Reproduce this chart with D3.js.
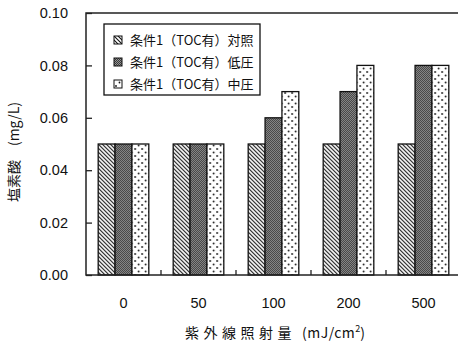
<!DOCTYPE html>
<html>
<head>
<meta charset="utf-8">
<script src="https://cdn.jsdelivr.net/npm/d3@7/dist/d3.min.js"></script>
<style>
  html, body { margin: 0; padding: 0; background: #fff; }
  svg { display: block; }
</style>
</head>
<body>
<svg id="chart" width="458" height="345"></svg>
<script>
// Chlorate concentration by UV dose, three treatment conditions
const categories = ["0", "50", "100", "200", "500"];
const seriesNames = ["条件1（TOC有）対照", "条件1（TOC有）低圧", "条件1（TOC有）中圧"];
const controlValues = [0.05, 0.05, 0.05, 0.05, 0.05];
const lowPressureValues = [0.05, 0.05, 0.06, 0.07, 0.08];
const mediumPressureValues = [0.05, 0.05, 0.07, 0.08, 0.08];
const yTicks = [0, 0.02, 0.04, 0.06, 0.08, 0.10];

const seriesValues = [controlValues, lowPressureValues, mediumPressureValues];
const patternIds = ["hatch", "grain", "dots"];

const svg = d3.select("#chart");
const cjk = "'Noto Sans CJK JP', 'Noto Sans CJK SC', sans-serif";
const latin = "'Liberation Sans', Arial, sans-serif";

const plot = { left: 86, right: 461, top: 13, bottom: 275 };

// Fill patterns
const defs = svg.append("defs");
const hatch = defs.append("pattern").attr("id", "hatch")
  .attr("patternUnits", "userSpaceOnUse").attr("width", 4).attr("height", 4);
hatch.append("rect").attr("width", 4).attr("height", 4).attr("fill", "#fff");
hatch.append("path").attr("d", "M-1,-1 L5,5 M-1,3 L1,5 M3,-1 L5,1")
  .attr("stroke", "#111").attr("stroke-width", 1.1);

const grain = defs.append("pattern").attr("id", "grain")
  .attr("patternUnits", "userSpaceOnUse").attr("width", 2).attr("height", 2);
grain.append("rect").attr("width", 2).attr("height", 2).attr("fill", "#959595");
grain.append("rect").attr("x", 0).attr("y", 0).attr("width", 1).attr("height", 1).attr("fill", "#383838");
grain.append("rect").attr("x", 1).attr("y", 1).attr("width", 1).attr("height", 1).attr("fill", "#383838");

const dots = defs.append("pattern").attr("id", "dots")
  .attr("patternUnits", "userSpaceOnUse").attr("width", 7).attr("height", 7);
dots.append("rect").attr("width", 7).attr("height", 7).attr("fill", "#fff");
dots.append("circle").attr("cx", 2).attr("cy", 2).attr("r", 0.9).attr("fill", "#111");
dots.append("circle").attr("cx", 5.5).attr("cy", 5.5).attr("r", 0.9).attr("fill", "#111");

// Scales
const x0 = d3.scaleBand().domain(categories).range([plot.left, plot.right])
  .paddingInner(0.325).paddingOuter(0.1625);
const x1 = d3.scaleBand().domain(d3.range(seriesNames.length)).range([0, x0.bandwidth()]);
const y = d3.scaleLinear().domain([0, 0.10]).range([plot.bottom, plot.top]);

// Bars
const groups = svg.append("g").selectAll("g").data(categories).join("g")
  .attr("transform", c => `translate(${x0(c)},0)`);
groups.selectAll("rect")
  .data((c, ci) => seriesValues.map((vals, si) => ({ si, v: vals[ci] })))
  .join("rect")
  .attr("x", d => x1(d.si))
  .attr("y", d => y(d.v))
  .attr("width", x1.bandwidth())
  .attr("height", d => y(0) - y(d.v))
  .attr("fill", d => `url(#${patternIds[d.si]})`)
  .attr("stroke", "#111").attr("stroke-width", 1.3);

// Frame
svg.append("rect")
  .attr("x", plot.left).attr("y", plot.top)
  .attr("width", plot.right - plot.left).attr("height", plot.bottom - plot.top)
  .attr("fill", "none").attr("stroke", "#222").attr("stroke-width", 1.5);

// Y axis
const yAxis = d3.axisLeft(y).tickValues(yTicks).tickFormat(d3.format(".2f"))
  .tickSizeInner(-6).tickSizeOuter(0).tickPadding(18);
const gy = svg.append("g").attr("transform", `translate(${plot.left},0)`).call(yAxis);
gy.select(".domain").remove();
gy.selectAll(".tick line").attr("stroke", "#222").attr("stroke-width", 1.3);
gy.selectAll(".tick text").attr("font-family", latin).attr("font-size", 14.5).attr("fill", "#111");

// X axis: labels at group centres, short inward ticks between groups
const xAxis = d3.axisBottom(x0).tickSize(0).tickPadding(23);
const gx = svg.append("g").attr("transform", `translate(0,${plot.bottom})`).call(xAxis);
gx.select(".domain").remove();
gx.selectAll(".tick text").attr("font-family", latin).attr("font-size", 14.5).attr("fill", "#111");
const gap = (x0.step() - x0.bandwidth()) / 2;
svg.append("g").selectAll("line").data(categories.slice(1)).join("line")
  .attr("x1", c => x0(c) - gap)
  .attr("x2", c => x0(c) - gap)
  .attr("y1", plot.bottom).attr("y2", plot.bottom - 5)
  .attr("stroke", "#222").attr("stroke-width", 1.3);

// Axis titles
const yTitle = svg.append("text")
  .attr("transform", "translate(19,152) rotate(-90)")
  .attr("text-anchor", "middle").attr("font-family", cjk).attr("font-size", 14).attr("fill", "#111");
yTitle.append("tspan").text("塩素酸");
yTitle.append("tspan").attr("dx", 14).text("(mg/L)");

const xTitle = svg.append("text")
  .attr("x", 275).attr("y", 338)
  .attr("text-anchor", "middle").attr("font-family", cjk).attr("font-size", 14).attr("fill", "#111");
xTitle.append("tspan").attr("letter-spacing", 4.5).text("紫外線照射量");
xTitle.append("tspan").attr("dx", 6).attr("letter-spacing", 0.5).text("(mJ/cm");
xTitle.append("tspan").attr("dy", -6).attr("font-size", 9).text("2");
xTitle.append("tspan").attr("dy", 6).text(")");

// Legend
const legend = svg.append("g");
legend.append("rect").attr("x", 104).attr("y", 24).attr("width", 156).attr("height", 71)
  .attr("fill", "#fff").attr("stroke", "#111").attr("stroke-width", 1.3);
const items = legend.selectAll("g.item").data(seriesNames).join("g").attr("class", "item")
  .attr("transform", (d, i) => `translate(114,${40 + i * 22})`);
items.append("rect").attr("x", 0).attr("y", -4).attr("width", 8).attr("height", 8)
  .attr("fill", (d, i) => `url(#${patternIds[i]})`).attr("stroke", "#111").attr("stroke-width", 1);
items.append("text").attr("x", 16).attr("y", 5)
  .attr("font-family", cjk).attr("font-size", 13).attr("fill", "#111").text(d => d);
</script>
</body>
</html>
